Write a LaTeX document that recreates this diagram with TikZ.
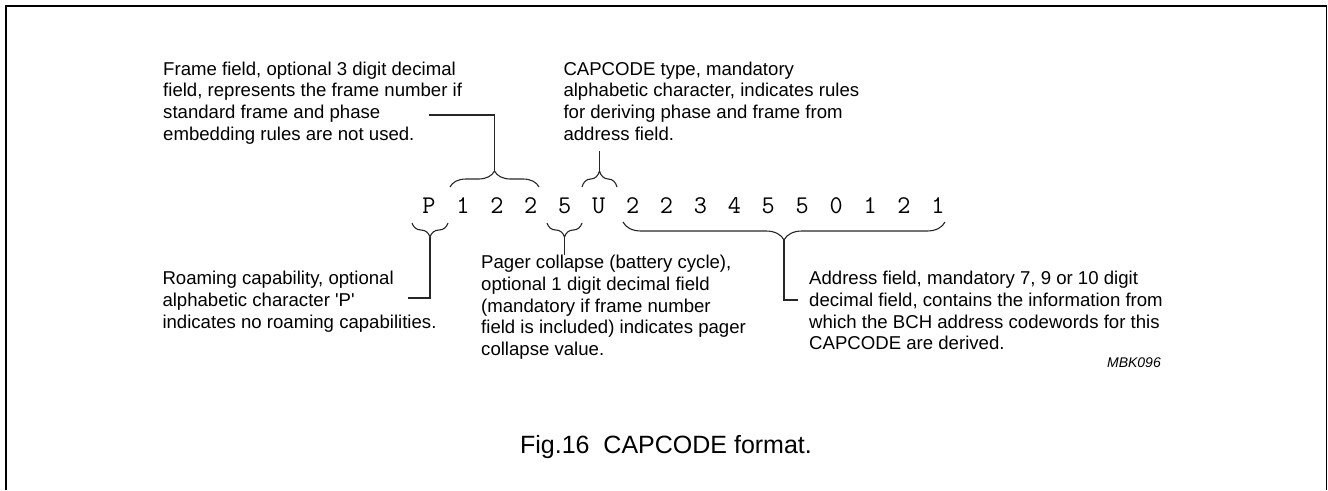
\documentclass[tikz,border=0pt]{standalone}
\usepackage{fontspec}
\setmainfont{Liberation Sans}
\newfontfamily\plainsans{Liberation Sans}
\usetikzlibrary{decorations.pathreplacing}
\begin{document}
\begin{tikzpicture}[x=1pt,y=-1pt,
  lbl/.style={inner sep=0pt, anchor=north west, align=left, font=\fontsize{18.6}{21.7}\selectfont},
  chr/.style={inner sep=0pt, anchor=base, font=\ttfamily\fontsize{25.5}{28}\selectfont},
  lead/.style={line width=1.1pt, black!85},
  brcup/.style={line width=1.1pt, black!85, decorate, decoration={brace, amplitude=#1}},
  brcdn/.style={line width=1.1pt, black!85, decorate, decoration={brace, mirror, amplitude=#1}},
]
\useasboundingbox (0,0) rectangle (1328,490);
\draw[line width=1.7pt] (5.7,490) -- (5.7,5.7) -- (1326.5,5.7) -- (1326.5,490);

% the code characters
\foreach \ch [count=\i] in {P,1,2,2,5,U,2,2,3,4,5,5,0,1,2,1}
  \node[chr] (c\i) at ({429+33.93*(\i-1)},213) {\ch};

% texts
\node[lbl] (frame) at (163,61.5) {Frame field, optional 3 digit decimal\\field, represents the frame number if\\standard frame and phase\\embedding rules are not used.};
\node[lbl] (type) at (563.3,61.5) {CAPCODE type, mandatory\\alphabetic character, indicates rules\\for deriving phase and frame from\\address field.};
\node[lbl] (roam) at (162.3,271) {Roaming capability, optional\\alphabetic character {\plainsans 'P'}\\indicates no roaming capabilities.};
\node[lbl] (pager) at (481,255) {Pager collapse (battery cycle),\\optional 1 digit decimal field\\(mandatory if frame number\\field is included) indicates pager\\collapse value.};
\node[lbl] (addr) at (809,271) {Address field, mandatory 7, 9 or 10 digit\\decimal field, contains the information from\\which the BCH address codewords for this\\CAPCODE are derived.};
\node[inner sep=0pt, anchor=base east, font=\fontsize{14}{16}\selectfont\itshape] (mbk) at (1161,367) {MBK096};
\node[inner sep=0pt, anchor=base, font=\fontsize{25}{28}\selectfont] (cap) at (666,453) {Fig.16\ \ CAPCODE format.};

% braces
\draw[brcup=16] (450,187) -- (539,187);
\draw[brcup=16] (582,187) -- (617,187);
\draw[brcdn=14] (412,223) -- (448,223);
\draw[brcdn=14] (547,223) -- (582,223);
\draw[brcdn=18] (623,222) -- (945,222);

% brace tips and leader ends
\coordinate (t1) at (494.5,171);
\coordinate (t2) at (599.5,171);
\coordinate (t3) at (430,237);
\coordinate (t4) at (564.5,237);
\coordinate (t5) at (784,240);
\coordinate (f1) at (429,115);
\coordinate (u1) at (599.5,151);
\coordinate (p1) at (408,298);
\coordinate (q1) at (564.5,255);
\coordinate (a1) at (798,300);

\draw[lead] (t1) |- (f1);
\draw[lead] (t2) -- (u1);
\draw[lead] (t3) |- (p1);
\draw[lead] (t4) -- (q1);
\draw[lead] (t5) |- (a1);
\end{tikzpicture}
\end{document}
